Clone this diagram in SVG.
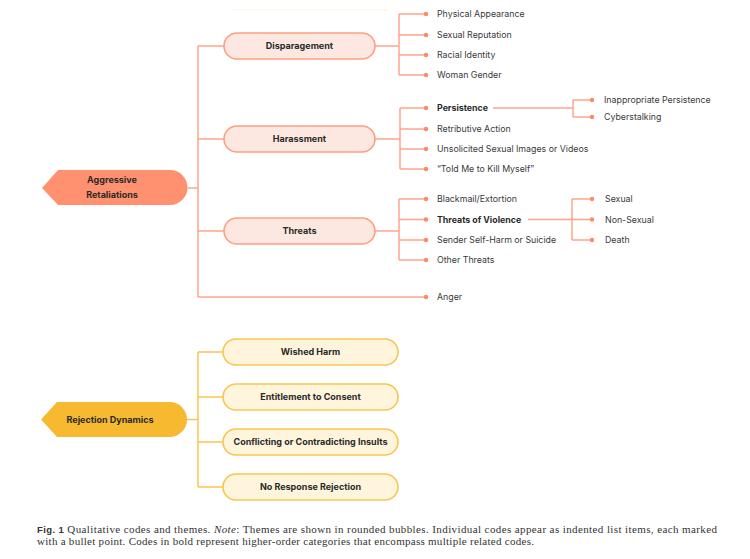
<svg xmlns="http://www.w3.org/2000/svg" width="750" height="559" viewBox="0 0 750 559">
<defs>
<style>
.bg{fill:#ffffff}
.ln{fill:none;stroke:#FFA58A;stroke-width:1.5}
.lny{fill:none;stroke:#F8C64E;stroke-width:1.5}
.dot{fill:#FF8866}
.pill{fill:#FDE8E1;stroke:#FF9E80;stroke-width:1.6}
.pilly{fill:#FFF4DC;stroke:#F8C64E;stroke-width:1.6}
.tag{fill:#FF9170}
.tagy{fill:#F6B92F}
.pt{font-family:Inter,"Liberation Sans",sans-serif;font-size:9px;font-weight:700;fill:#2a2a2a;text-anchor:middle}
.it{font-family:Inter,"Liberation Sans",sans-serif;font-size:8.8px;fill:#3a3a3a}
.itb{font-family:Inter,"Liberation Sans",sans-serif;font-size:8.8px;font-weight:700;fill:#2a2a2a}
.cap{font-family:"Liberation Serif",serif;font-size:11px;fill:#333}
</style>
</defs>
<rect class="bg" x="0" y="0" width="750" height="559"/>
<line x1="232" y1="10" x2="388" y2="10" stroke="#FDF1DE" stroke-width="1"/>

<g id="connectors">
  <path class="ln" d="M188,188 H198 M198,46 V297 M198,46 H224 M198,139 H224 M198,231 H224 M198,297 H426"/>
  <path class="ln" d="M375,46 H399 M399,14 V75 M399,14 H426 M399,35 H426 M399,55 H426 M399,75 H426"/>
  <path class="ln" d="M375,139 H400 M400,108 V169 M400,108 H426 M400,129 H426 M400,149 H426 M400,169 H426"/>
  <path class="ln" d="M493,108 H573 M573,100 V117 M573,100 H592 M573,117 H592"/>
  <path class="ln" d="M375,231 H399 M399,199 V260 M399,199 H426 M399,219.5 H426 M399,240 H426 M399,260 H426"/>
  <path class="ln" d="M528,219.5 H572 M572,199 V240 M572,199 H592 M572,219.5 H592 M572,240 H592"/>
  <g class="dot">
    <circle cx="426" cy="14" r="2.2"/><circle cx="426" cy="35" r="2.2"/><circle cx="426" cy="55" r="2.2"/><circle cx="426" cy="75" r="2.2"/>
    <circle cx="426" cy="108" r="2.2"/><circle cx="426" cy="129" r="2.2"/><circle cx="426" cy="149" r="2.2"/><circle cx="426" cy="169" r="2.2"/>
    <circle cx="592" cy="100" r="2.2"/><circle cx="592" cy="117" r="2.2"/>
    <circle cx="426" cy="199" r="2.2"/><circle cx="426" cy="219.5" r="2.2"/><circle cx="426" cy="240" r="2.2"/><circle cx="426" cy="260" r="2.2"/>
    <circle cx="592" cy="199" r="2.2"/><circle cx="592" cy="219.5" r="2.2"/><circle cx="592" cy="240" r="2.2"/>
    <circle cx="426" cy="297" r="2.2"/>
  </g>
  <path class="lny" d="M187,419.5 H198 M198,352 V487 M198,352 H223 M198,397 H223 M198,442 H223 M198,487 H223"/>
</g>

<g id="aggressive">
  <path class="tag" d="M42,188 L58,170 H170 A17.5,17.5 0 0 1 170,205 H58 Z"/>
  <text class="pt" x="112" y="183">Aggressive</text>
  <text class="pt" x="112" y="198">Retaliations</text>
</g>
<g id="disparagement">
  <rect class="pill" x="224" y="33" width="151" height="26" rx="13"/>
  <text class="pt" x="299.5" y="49">Disparagement</text>
</g>
<g id="harassment">
  <rect class="pill" x="224" y="126" width="151" height="26" rx="13"/>
  <text class="pt" x="299.5" y="142">Harassment</text>
</g>
<g id="threats">
  <rect class="pill" x="224" y="218" width="151" height="26" rx="13"/>
  <text class="pt" x="299.5" y="234">Threats</text>
</g>

<g id="disparagement-codes">
  <text class="it" x="437" y="17">Physical Appearance</text>
  <text class="it" x="437" y="38">Sexual Reputation</text>
  <text class="it" x="437" y="58">Racial Identity</text>
  <text class="it" x="437" y="78">Woman Gender</text>
</g>
<g id="harassment-codes">
  <text class="itb" x="437" y="111">Persistence</text>
  <text class="it" x="437" y="132">Retributive Action</text>
  <text class="it" x="437" y="152">Unsolicited Sexual Images or Videos</text>
  <text class="it" x="437" y="172">“Told Me to Kill Myself”</text>
  <text class="it" x="604" y="103">Inappropriate Persistence</text>
  <text class="it" x="604" y="120">Cyberstalking</text>
</g>
<g id="threats-codes">
  <text class="it" x="437" y="202">Blackmail/Extortion</text>
  <text class="itb" x="437" y="222.5">Threats of Violence</text>
  <text class="it" x="437" y="243">Sender Self-Harm or Suicide</text>
  <text class="it" x="437" y="263">Other Threats</text>
  <text class="it" x="605" y="202">Sexual</text>
  <text class="it" x="605" y="222.5">Non-Sexual</text>
  <text class="it" x="605" y="243">Death</text>
</g>
<g id="anger">
  <text class="it" x="437" y="300">Anger</text>
</g>

<g id="rejection">
  <path class="tagy" d="M41,419.5 L57,402 H169.5 A17.5,17.5 0 0 1 169.5,437 H57 Z"/>
  <text class="pt" x="110" y="422.5">Rejection Dynamics</text>
</g>
<g id="wished-harm">
  <rect class="pilly" x="223" y="339" width="175" height="26" rx="13"/>
  <text class="pt" x="310.5" y="355">Wished Harm</text>
</g>
<g id="entitlement">
  <rect class="pilly" x="223" y="384" width="175" height="26" rx="13"/>
  <text class="pt" x="310.5" y="400">Entitlement to Consent</text>
</g>
<g id="conflicting">
  <rect class="pilly" x="223" y="429" width="175" height="26" rx="13"/>
  <text class="pt" x="310.5" y="445">Conflicting or Contradicting Insults</text>
</g>
<g id="no-response">
  <rect class="pilly" x="223" y="474" width="175" height="26" rx="13"/>
  <text class="pt" x="310.5" y="490">No Response Rejection</text>
</g>

<g id="caption">
  <text class="cap" x="37" y="532.5" textLength="680" lengthAdjust="spacing"><tspan font-family="'Liberation Sans',sans-serif" font-weight="700" font-size="9.5">Fig. 1</tspan><tspan>  Qualitative codes and themes. </tspan><tspan font-style="italic">Note</tspan><tspan>: Themes are shown in rounded bubbles. Individual codes appear as indented list items, each marked</tspan></text>
  <text class="cap" x="37" y="544.5" textLength="497" lengthAdjust="spacing">with a bullet point. Codes in bold represent higher-order categories that encompass multiple related codes.</text>
</g>
</svg>
